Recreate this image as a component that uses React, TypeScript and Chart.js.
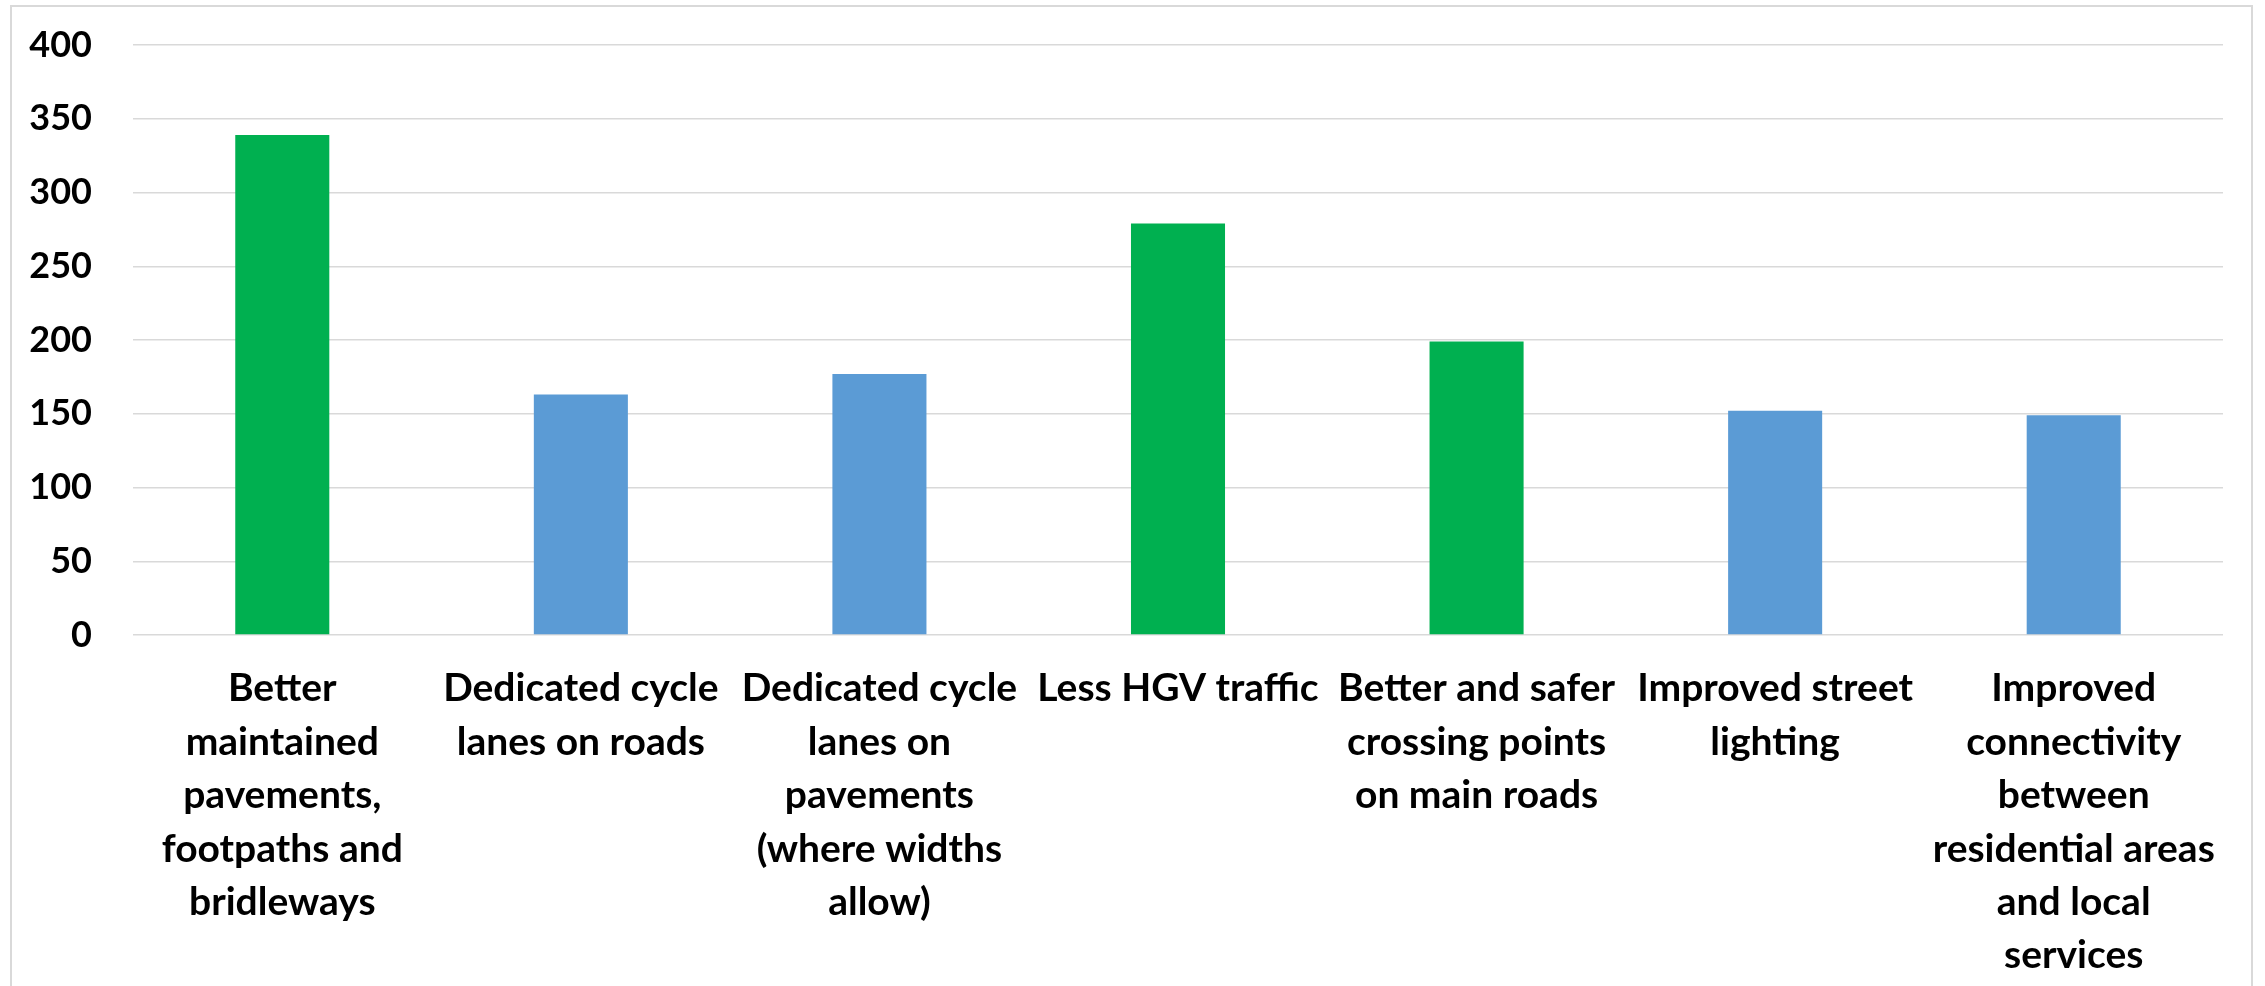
import React, { useEffect, useRef } from "react";
import { Chart, registerables } from "chart.js";

Chart.register(...registerables);

const categories: string[][] = [
  ["Better", "maintained", "pavements,", "footpaths and", "bridleways"],
  ["Dedicated cycle", "lanes on roads"],
  ["Dedicated cycle", "lanes on", "pavements", "(where widths", "allow)"],
  ["Less HGV traffic"],
  ["Better and safer", "crossing points", "on main roads"],
  ["Improved street", "lighting"],
  ["Improved", "connectivity", "between", "residential areas", "and local", "services"],
];

const values: number[] = [339, 163, 177, 279, 199, 152, 149];

const highlighted: boolean[] = [true, false, false, true, true, false, false];

const yTicks: number[] = [0, 50, 100, 150, 200, 250, 300, 350, 400];

const GREEN = "#00B050";
const BLUE = "#5B9BD5";
const GRID = "#D9D9D9";
const FONT = "Lato, 'Open Sans', sans-serif";

export default function App() {
  const ref = useRef<HTMLCanvasElement | null>(null);

  useEffect(() => {
    document.body.style.margin = "0";
    document.body.style.background = "#ffffff";
    const canvas = ref.current;
    if (!canvas) return;
    const chart = new Chart(canvas, {
      type: "bar",
      data: {
        labels: categories,
        datasets: [
          {
            data: values,
            backgroundColor: highlighted.map((h) => (h ? GREEN : BLUE)),
            borderWidth: 0,
            barPercentage: 0.315,
            categoryPercentage: 1,
          },
        ],
      },
      options: {
        responsive: false,
        animation: false,
        devicePixelRatio: 1,
        layout: { padding: { left: 0, right: 42, top: 45, bottom: 0 } },
        plugins: {
          legend: { display: false },
          tooltip: { enabled: false },
        },
        scales: {
          x: {
            grid: { display: false, drawTicks: false },
            border: { display: false },
            ticks: {
              autoSkip: false,
              maxRotation: 0,
              minRotation: 0,
              color: "#000000",
              padding: 27,
              font: { family: FONT, size: 39, weight: "bold", lineHeight: 1.37 },
            },
            afterFit: (scale: any) => {
              scale.height = 986 - 635;
              scale.paddingLeft = 0;
              scale.paddingRight = 0;
            },
          },
          y: {
            min: 0,
            max: 400,
            afterBuildTicks: (scale: any) => {
              scale.ticks = yTicks.map((v) => ({ value: v }));
            },
            grid: { color: GRID, lineWidth: 1.5, drawTicks: false },
            border: { display: false },
            ticks: {
              color: "#000000",
              padding: 41,
              font: { family: FONT, size: 36, weight: "bold" },
            },
            afterFit: (scale: any) => {
              scale.width = 133;
              scale.paddingTop = 0;
              scale.paddingBottom = 0;
            },
          },
        },
      },
    });
    return () => chart.destroy();
  }, []);

  return (
    <div style={{ position: "relative", width: 2265, height: 986, overflow: "hidden", background: "#fff" }}>
      <div
        style={{
          position: "absolute",
          left: 10,
          top: 5,
          width: 2243,
          height: 1010,
          border: "2px solid #D9D9D9",
          boxSizing: "border-box",
        }}
      />
      <canvas
        ref={ref}
        width={2265}
        height={986}
        style={{ position: "absolute", left: 0, top: 0, width: 2265, height: 986 }}
      />
    </div>
  );
}
